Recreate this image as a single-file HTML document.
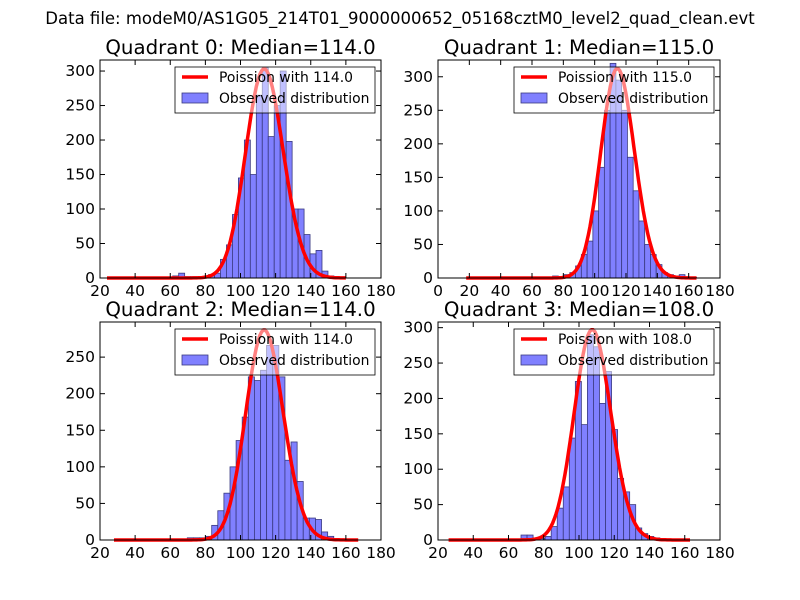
<!DOCTYPE html>
<html><head><meta charset="utf-8"><style>body{margin:0;background:#fff}svg{display:block;font-family:"DejaVu Sans","Liberation Sans",sans-serif}</style></head>
<body>
<svg id="fig" width="800" height="600">
<rect width="800" height="600" fill="#fff"/>
<text x="400" y="24" text-anchor="middle" font-size="16.5">Data file: modeM0/AS1G05_214T01_9000000652_05168cztM0_level2_quad_clean.evt</text>
</svg>
<script>
const medians=[114,115,114,108];
const poissonPeaks=[303,312,287,297];
const binStarts=[24,18,28,26];
const binWidths=[3.4,3.675,3.475,3.425];
const counts0=[0,0,0,0,0,0,0,0,0,0,0,3,7,2,2,0,2,5,7,27,48,92,145,200,150,265,305,205,250,300,198,100,100,63,35,40,10,3,1,1];
const counts1=[0,0,0,0,0,0,0,0,0,0,0,0,1,1,1,3,1,5,8,18,35,55,100,165,250,320,295,250,180,130,85,50,35,20,8,5,3,5,1,1];
const counts2=[0,0,0,0,0,0,0,0,0,0,0,1,3,3,3,5,20,40,64,100,136,168,223,218,232,266,266,223,109,134,80,30,30,28,11,5,1,1,0,0];
const counts3=[0,0,0,0,0,0,0,0,0,0,0,1,7,7,0,2,5,19,45,75,144,224,163,290,273,193,238,156,87,68,50,17,9,5,3,1,0,0,0,0];
const xRanges=[[20,180],[0,180],[20,180],[20,180]];
const yMaxes=[316,325,298,308];
const xTicks=[[20,40,60,80,100,120,140,160,180],[0,20,40,60,80,100,120,140,160,180],[20,40,60,80,100,120,140,160,180],[20,40,60,80,100,120,140,160,180]];
const yTicks=[[0,50,100,150,200,250,300],[0,50,100,150,200,250,300],[0,50,100,150,200,250],[0,50,100,150,200,250,300]];
const allCounts=[counts0,counts1,counts2,counts3];
const boxes=[[100,60,381,278],[438,60,720,278],[100,322,381,540],[438,322,720,540]];
const NS="http://www.w3.org/2000/svg";
const svg=document.getElementById('fig');
function mk(tag,attrs,parent){const e=document.createElementNS(NS,tag);for(const k in attrs)e.setAttribute(k,attrs[k]);(parent||svg).appendChild(e);return e;}
function lgam(n){let s=0;for(let i=2;i<=n;i++)s+=Math.log(i);return s;}
function pmf(k,m){return Math.exp(k*Math.log(m)-m-lgam(k));}
for(let q=0;q<4;q++){
  const [L,T,R,B]=boxes[q];const [x0,x1]=xRanges[q];const ym=yMaxes[q];
  const X=v=>L+(v-x0)/(x1-x0)*(R-L);const Y=v=>B-v/ym*(B-T);
  const g=mk('g',{});
  
  
  const t=mk('text',{x:(L+R)/2,y:T-6,'text-anchor':'middle','font-size':19.8},g);
  t.textContent='Quadrant '+q+': Median='+medians[q].toFixed(1);
  
  
  const cs=allCounts[q];
  for(let i=0;i<cs.length;i++){
    if(cs[i]<=0)continue;
    const a=binStarts[q]+i*binWidths[q];
    const r=mk('rect',{x:X(a),y:Y(cs[i]),width:X(a+binWidths[q])-X(a),height:B-Y(cs[i]),fill:'#8080ff',stroke:'#3a3a80','stroke-width':0.8},g);
    
    
  }
  const m=medians[q];const pk=pmf(Math.floor(m),m);
  const hi=binStarts[q]+cs.length*binWidths[q];
  let d='';
  for(let k=Math.ceil(binStarts[q]);k<=hi;k++){const v=pmf(k,m)/pk*poissonPeaks[q];d+=(d?'L':'M')+X(k).toFixed(1)+','+Y(v).toFixed(1);}
  const p=mk('path',{d:d,fill:'none',stroke:'#ff0000','stroke-width':3.5,'stroke-linejoin':'round'},g);
  
  
  mk('rect',{x:L,y:T,width:R-L,height:B-T,fill:'none',stroke:'#000','stroke-width':1},g);
  xTicks[q].forEach(v=>{const x=X(v);mk('line',{x1:x,x2:x,y1:B,y2:B-5,stroke:'#000'},g);mk('line',{x1:x,x2:x,y1:T,y2:T+5,stroke:'#000'},g);
    const tl=mk('text',{x:x,y:B+18,'text-anchor':'middle','font-size':15.5},g);tl.textContent=v;
    
    });
  yTicks[q].forEach(v=>{const y=Y(v);mk('line',{x1:L,x2:L+5,y1:y,y2:y,stroke:'#000'},g);mk('line',{x1:R,x2:R-5,y1:y,y2:y,stroke:'#000'},g);
    const tl=mk('text',{x:L-5,y:y+5,'text-anchor':'end','font-size':15.5},g);tl.textContent=v;
    
    });
  const lg=mk('g',{},g);
  
  
  mk('rect',{x:R-206,y:T+7,width:200,height:46,fill:'#fff','fill-opacity':0.5,stroke:'#000','stroke-width':0.8},lg);
  mk('line',{x1:R-199,x2:R-173,y1:T+17,y2:T+17,stroke:'#ff0000','stroke-width':3.5},lg);
  mk('rect',{x:R-199,y:T+33,width:26,height:10,fill:'#8080ff',stroke:'#3a3a80','stroke-width':0.8},lg);
  const l1=mk('text',{x:R-162,y:T+22,'font-size':13.9},lg);l1.textContent='Poission with '+m.toFixed(1);
  const l2=mk('text',{x:R-162,y:T+43,'font-size':13.9},lg);l2.textContent='Observed distribution';
}
</script>
</body></html>
